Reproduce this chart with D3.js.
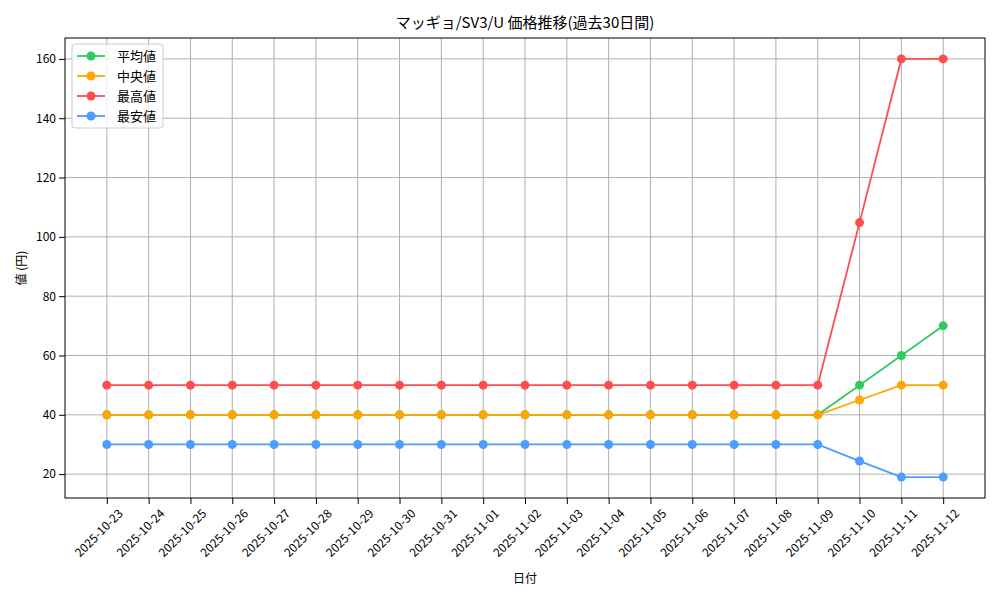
<!DOCTYPE html><html><head><meta charset="utf-8"><script src="https://cdn.jsdelivr.net/npm/d3@7"></script>
<style>body{margin:0;background:#fff}text{font-family:"Noto Sans CJK JP","DejaVu Sans",sans-serif}</style></head><body><svg id="c" width="1000" height="600"></svg><script>
const dates=["2025-10-23","2025-10-24","2025-10-25","2025-10-26","2025-10-27","2025-10-28","2025-10-29","2025-10-30","2025-10-31","2025-11-01","2025-11-02","2025-11-03","2025-11-04","2025-11-05","2025-11-06","2025-11-07","2025-11-08","2025-11-09","2025-11-10","2025-11-11","2025-11-12"];
const avgVals=[40,40,40,40,40,40,40,40,40,40,40,40,40,40,40,40,40,40,50,60,70];
const medVals=[40,40,40,40,40,40,40,40,40,40,40,40,40,40,40,40,40,40,45,50,50];
const maxVals=[50,50,50,50,50,50,50,50,50,50,50,50,50,50,50,50,50,50,104.8,160,160];
const minVals=[30,30,30,30,30,30,30,30,30,30,30,30,30,30,30,30,30,30,24.4,19,19];
const seriesNames=["平均値","中央値","最高値","最安値"];
const colors=["#2ecc60","#ffa500","#ff4d4d","#4d9cff"];
const yTicks=[20,40,60,80,100,120,140,160];
const series=[avgVals,medVals,maxVals,minVals];
const L=65,R=985,T=38,B=498;
const svg=d3.select("#c");
const x=d3.scaleLinear().domain([-1,21]).range([L,R]);
const y=d3.scaleLinear().domain([11.95,167.05]).range([B,T]);
const g=svg.append("g");
g.selectAll(".vg").data(dates).join("line").attr("x1",(d,i)=>x(i)).attr("x2",(d,i)=>x(i)).attr("y1",T).attr("y2",B).attr("stroke","#b0b0b0");
g.selectAll(".hg").data(yTicks).join("line").attr("x1",L).attr("x2",R).attr("y1",d=>y(d)).attr("y2",d=>y(d)).attr("stroke","#b0b0b0");
const xa=svg.append("g").attr("transform",`translate(0,${B})`).call(d3.axisBottom(x).tickValues(d3.range(dates.length)).tickFormat(i=>dates[i]).tickSizeOuter(0));
xa.selectAll("text").attr("font-size",12).attr("text-anchor","end").attr("transform","translate(4,4) rotate(-45)").attr("dy","0.7em").attr("fill","#000");
const ya=svg.append("g").attr("transform",`translate(${L},0)`).call(d3.axisLeft(y).tickValues(yTicks).tickSizeOuter(0));
ya.selectAll("text").attr("font-size",12).attr("fill","#000");
svg.selectAll(".domain").remove();
svg.append("rect").attr("x",L).attr("y",T).attr("width",R-L).attr("height",B-T).attr("fill","none").attr("stroke","#000");
const line=d3.line().x((d,i)=>x(i)).y(d=>y(d));
series.forEach((s,k)=>{
 svg.append("path").datum(s).attr("d",line).attr("fill","none").attr("stroke",colors[k]).attr("stroke-width",1.8);
 svg.append("g").selectAll("circle").data(s).join("circle").attr("cx",(d,i)=>x(i)).attr("cy",d=>y(d)).attr("r",4.5).attr("fill",colors[k]);
});
const lg=svg.append("g");
lg.append("rect").attr("x",72).attr("y",44).attr("width",91).attr("height",84).attr("rx",3).attr("fill","#fff").attr("fill-opacity",0.8).attr("stroke","#ccc");
seriesNames.forEach((n,k)=>{const yy=56+k*20;
 lg.append("line").attr("x1",77).attr("x2",105).attr("y1",yy).attr("y2",yy).attr("stroke",colors[k]).attr("stroke-width",1.8);
 lg.append("circle").attr("cx",91).attr("cy",yy).attr("r",4.5).attr("fill",colors[k]);
 lg.append("text").attr("x",117).attr("y",yy).attr("dy","0.35em").attr("font-size",13).text(n);});
svg.append("text").attr("x",(L+R)/2).attr("y",28).attr("text-anchor","middle").attr("font-size",15).text("マッギョ/SV3/U 価格推移(過去30日間)");
svg.append("text").attr("x",(L+R)/2).attr("y",583).attr("text-anchor","middle").attr("font-size",12).text("日付");
svg.append("text").attr("transform",`translate(26,${(T+B)/2}) rotate(-90)`).attr("text-anchor","middle").attr("font-size",12).text("値 (円)");
</script></body></html>
